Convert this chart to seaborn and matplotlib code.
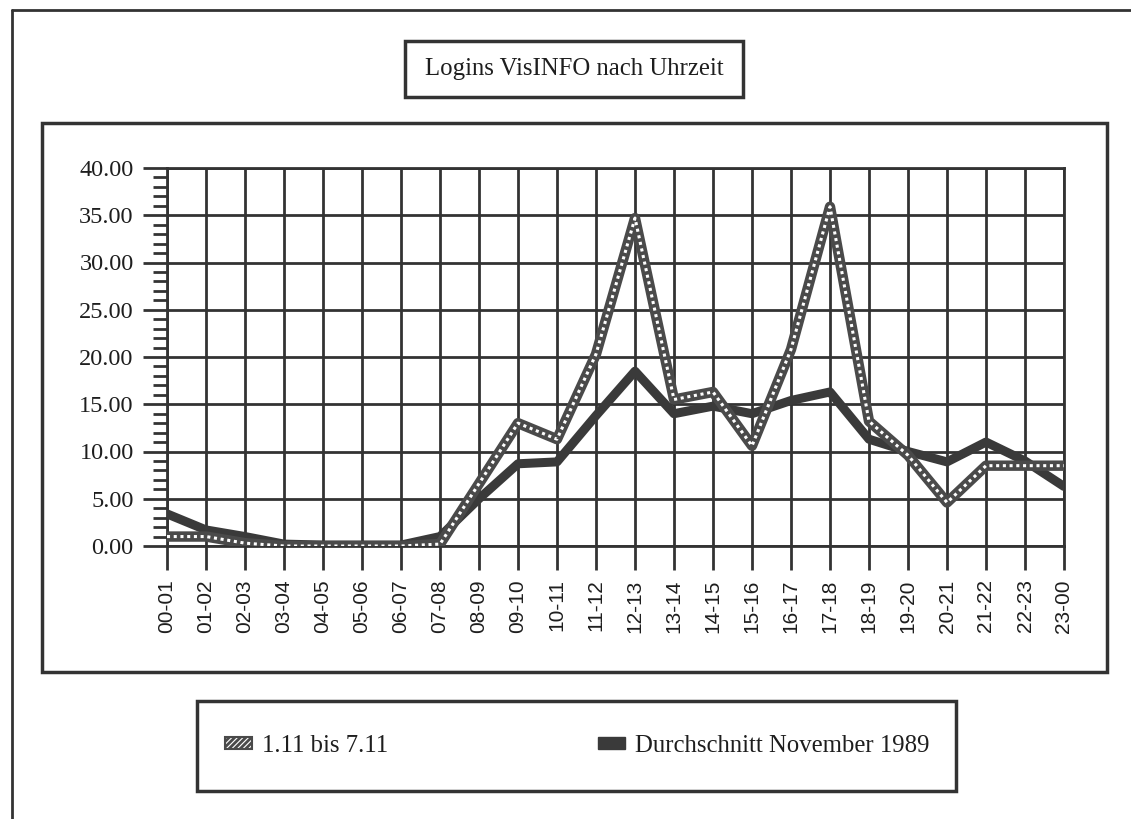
import matplotlib
matplotlib.use("Agg")
import matplotlib.pyplot as plt
from matplotlib.patches import Rectangle, Patch
from matplotlib.lines import Line2D
from matplotlib.ticker import MultipleLocator
import seaborn as sns
import pandas as pd

# ---- data ----
hours = ["00-01", "01-02", "02-03", "03-04", "04-05", "05-06", "06-07", "07-08",
         "08-09", "09-10", "10-11", "11-12", "12-13", "13-14", "14-15", "15-16",
         "16-17", "17-18", "18-19", "19-20", "20-21", "21-22", "22-23", "23-00"]
week = [1.0, 1.0, 0.3, 0.0, 0.0, 0.0, 0.0, 0.2, 6.6, 13.0, 11.3, 20.3, 34.7, 15.5,
        16.3, 10.6, 20.8, 35.9, 13.2, 9.6, 4.6, 8.5, 8.5, 8.5]
avg = [3.4, 1.7, 1.0, 0.2, 0.1, 0.1, 0.1, 1.0, 5.0, 8.7, 8.9, 13.8, 18.5, 14.0,
       14.8, 14.0, 15.4, 16.3, 11.3, 10.0, 8.9, 11.0, 9.0, 6.3]
label_week = "1.11 bis 7.11"
label_avg = "Durchschnitt November 1989"
title = "Logins VisINFO nach Uhrzeit"
yticks = [0, 5, 10, 15, 20, 25, 30, 35, 40]

df = pd.DataFrame({"hour": hours, "week": week, "avg": avg})

W, H = 1131, 819
sns.set_theme(style="white")
plt.rcParams["font.family"] = ["Liberation Serif", "DejaVu Serif"]
plt.rcParams["hatch.linewidth"] = 2.0
plt.rcParams["hatch.color"] = "#4a4a4a"

fig = plt.figure(figsize=(W / 100, H / 100), dpi=100)
fig.patch.set_facecolor("white")

def fx(x):
    return x / W

def fy(y):
    return 1 - y / H

INK = "#333333"
TXT = "#1e1e1e"

# axes placement (pixels)
L, R, T, B = 167, 1064, 168, 546
ax = fig.add_axes([fx(L), fy(B), fx(R - L), (B - T) / H])

# lines via seaborn
sns.lineplot(data=df, x="hour", y="avg", ax=ax, color="#3a3a3a", linewidth=6.5,
             sort=False, zorder=4, solid_joinstyle="round")
sns.lineplot(data=df, x="hour", y="week", ax=ax, color="#4a4a4a", linewidth=7.5,
             sort=False, zorder=5, solid_joinstyle="round")
sns.lineplot(data=df, x="hour", y="week", ax=ax, color="white", linewidth=2.2,
             sort=False, zorder=6)
ax.lines[-1].set_linestyle((0, (1.0, 1.2)))

ax.set_xlim(0, len(hours) - 1)
ax.set_ylim(0, 40)
ax.set_yticks(yticks)
ax.set_yticklabels([f"{v:.2f}" for v in yticks], fontsize=17.5,
                   family=["Liberation Serif"], color=TXT)
ax.yaxis.set_minor_locator(MultipleLocator(1))
ax.set_xticks(range(len(hours)))
ax.set_xticklabels(hours, rotation=90, fontsize=15,
                   family=["Liberation Sans"], color=TXT)
ax.set_xlabel("")
ax.set_ylabel("")

ax.grid(True, which="major", color=INK, linewidth=2.0)
ax.set_axisbelow(True)
for s in ax.spines.values():
    s.set_color(INK)
    s.set_linewidth(2.0)
ax.tick_params(axis="y", which="major", direction="out", length=17, width=2.0,
               color=INK, pad=7, left=True)
ax.tick_params(axis="y", which="minor", direction="out", length=10, width=2.0,
               color=INK, left=True)
ax.tick_params(axis="x", which="major", direction="out", length=17, width=2.0,
               color=INK, pad=7, bottom=True)

# ---- frames ----
def box(x0, y0, x1, y1, lw=2.5):
    fig.add_artist(Rectangle((fx(x0), fy(y1)), fx(x1 - x0), (y1 - y0) / H,
                             transform=fig.transFigure, fill=False,
                             edgecolor=INK, linewidth=lw))

# outer page frame (left and top edges visible)
fig.add_artist(Line2D([fx(12), fx(12)], [fy(10), 0], transform=fig.transFigure,
                      color=INK, linewidth=2.0))
fig.add_artist(Line2D([fx(12), 1], [fy(10), fy(10)], transform=fig.transFigure,
                      color=INK, linewidth=2.0))

# chart frame
box(42, 123, 1107, 672)
# title box
box(405, 41, 743, 97)
fig.text(fx(574), fy(69), title, ha="center", va="center", fontsize=17.8,
         family=["Liberation Serif"], color=TXT)

# legend box
box(197, 701, 956, 791)
handles = [Patch(facecolor="white", edgecolor="#4a4a4a", hatch="//////",
                 linewidth=1.5, label=label_week),
           Patch(facecolor="#3a3a3a", edgecolor="#3a3a3a", label=label_avg)]
leg = fig.legend(handles=handles, loc="center", ncol=2,
                 bbox_to_anchor=(fx(577), fy(746)), frameon=False,
                 prop={"family": "Liberation Serif", "size": 17.8},
                 handlelength=1.1, handleheight=0.4, handletextpad=0.4,
                 columnspacing=8.5)
for t in leg.get_texts():
    t.set_color(TXT)

fig.savefig("out.png", dpi=100, facecolor="white")
